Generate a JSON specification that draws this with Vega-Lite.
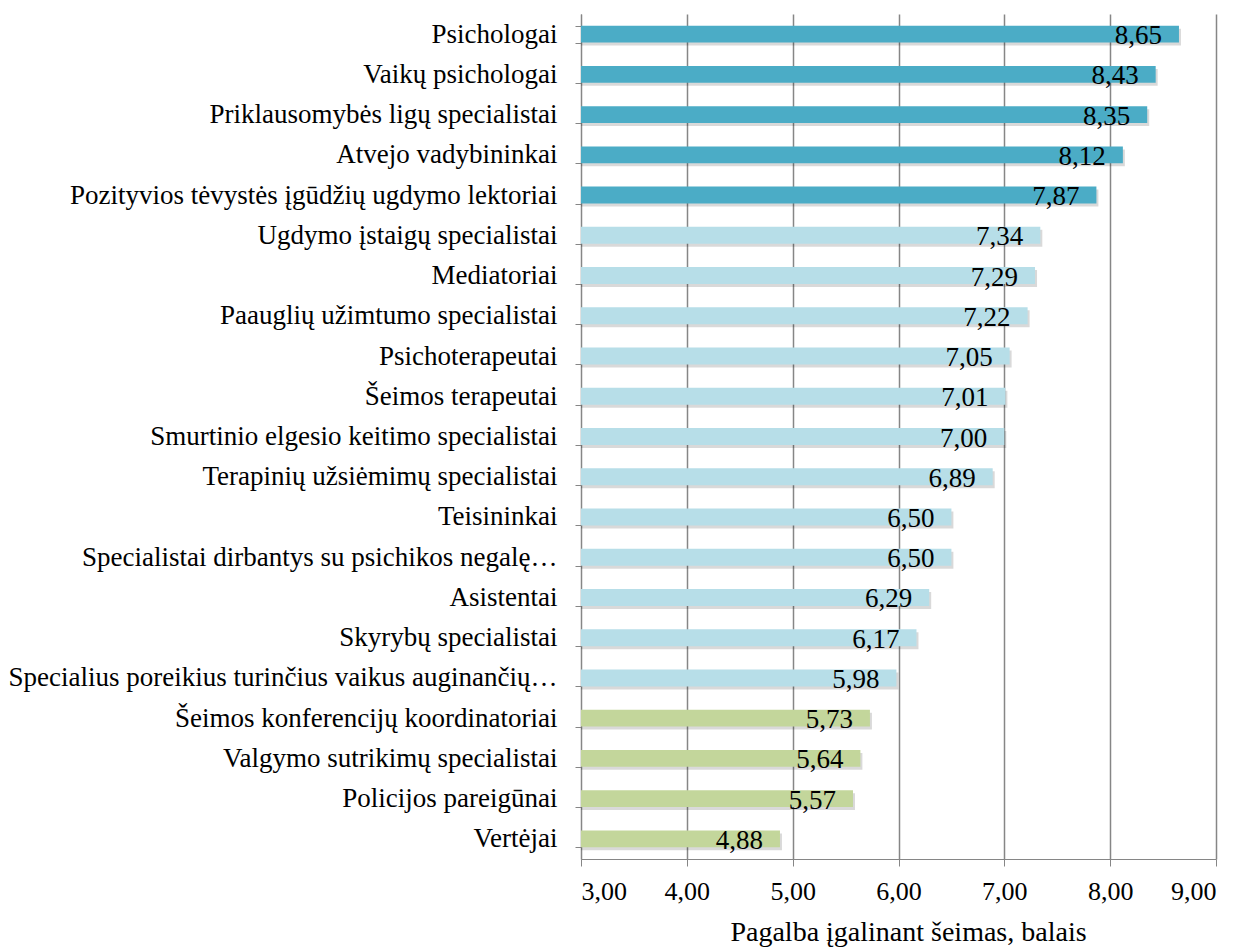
{
  "$schema": "https://vega.github.io/schema/vega-lite/v6.json",
  "width": 635,
  "height": 845,
  "autosize": "none",
  "padding": {"left": 581, "top": 14, "right": 27, "bottom": 88},
  "config": {
    "locale": {"number": {"decimal": ",", "thousands": " ", "grouping": [3], "currency": ["", ""]}},
    "view": {"stroke": null},
    "font": "Liberation Serif"
  },
  "data": {
    "values": [
      {"kat": "Psichologai", "v": 8.65, "g": "A"},
      {"kat": "Vaikų psichologai", "v": 8.43, "g": "A"},
      {"kat": "Priklausomybės ligų specialistai", "v": 8.35, "g": "A"},
      {"kat": "Atvejo vadybininkai", "v": 8.12, "g": "A"},
      {"kat": "Pozityvios tėvystės įgūdžių ugdymo lektoriai", "v": 7.87, "g": "A"},
      {"kat": "Ugdymo įstaigų specialistai", "v": 7.34, "g": "B"},
      {"kat": "Mediatoriai", "v": 7.29, "g": "B"},
      {"kat": "Paauglių užimtumo specialistai", "v": 7.22, "g": "B"},
      {"kat": "Psichoterapeutai", "v": 7.05, "g": "B"},
      {"kat": "Šeimos terapeutai", "v": 7.01, "g": "B"},
      {"kat": "Smurtinio elgesio keitimo specialistai", "v": 7.00, "g": "B"},
      {"kat": "Terapinių užsiėmimų specialistai", "v": 6.89, "g": "B"},
      {"kat": "Teisininkai ", "v": 6.50, "g": "B"},
      {"kat": "Specialistai dirbantys su psichikos negalę…", "v": 6.50, "g": "B"},
      {"kat": "Asistentai", "v": 6.29, "g": "B"},
      {"kat": "Skyrybų specialistai", "v": 6.17, "g": "B"},
      {"kat": "Specialius poreikius turinčius vaikus auginančių…", "v": 5.98, "g": "B"},
      {"kat": "Šeimos konferencijų koordinatoriai", "v": 5.73, "g": "C"},
      {"kat": "Valgymo sutrikimų specialistai", "v": 5.64, "g": "C"},
      {"kat": "Policijos pareigūnai", "v": 5.57, "g": "C"},
      {"kat": "Vertėjai", "v": 4.88, "g": "C"}
    ]
  },
  "encoding": {
    "y": {
      "field": "kat",
      "type": "nominal",
      "sort": null,
      "scale": {"paddingInner": 0.58, "paddingOuter": 0.29},
      "axis": {
        "title": null,
        "labelFont": "Liberation Serif",
        "labelFontSize": 27,
        "labelColor": "#000000",
        "labelLimit": 0,
        "labelPadding": 18,
        "tickBand": "extent",
        "tickSize": 6,
        "tickColor": "#868686",
        "domainColor": "#868686",
        "grid": false
      }
    },
    "x": {
      "field": "v",
      "type": "quantitative",
      "scale": {"domain": [3, 9], "nice": false, "zero": false},
      "axis": {
        "values": [3, 4, 5, 6, 7, 8, 9],
        "format": ".2f",
        "grid": true,
        "gridColor": "#868686",
        "gridWidth": 1.5,
        "domainColor": "#868686",
        "tickColor": "#868686",
        "tickSize": 7,
        "labelFont": "Liberation Serif",
        "labelFontSize": 26,
        "labelColor": "#000000",
        "labelPadding": 12,
        "title": "Pagalba įgalinant šeimas, balais",
        "titleFont": "Liberation Serif",
        "titleFontSize": 28,
        "titleFontWeight": "normal",
        "titleColor": "#000000",
        "titleX": 327,
        "titleY": 81,
        "titleAlign": "center",
        "titleBaseline": "alphabetic"
      }
    },
    "x2": {"datum": 3}
  },
  "layer": [
    {
      "mark": {"type": "bar", "color": "#000000", "opacity": 0.15, "xOffset": 2, "yOffset": 3}
    },
    {
      "mark": {"type": "bar"},
      "encoding": {
        "color": {
          "field": "g",
          "type": "nominal",
          "scale": {"domain": ["A", "B", "C"], "range": ["#4BACC6", "#B7DEE8", "#C3D69B"]},
          "legend": null
        }
      }
    },
    {
      "mark": {"type": "text", "align": "right", "baseline": "middle", "dx": -17, "dy": 2, "font": "Liberation Serif", "fontSize": 27, "color": "#000000"},
      "encoding": {
        "x2": null,
        "text": {"field": "v", "type": "quantitative", "format": ".2f"}
      }
    }
  ]
}
